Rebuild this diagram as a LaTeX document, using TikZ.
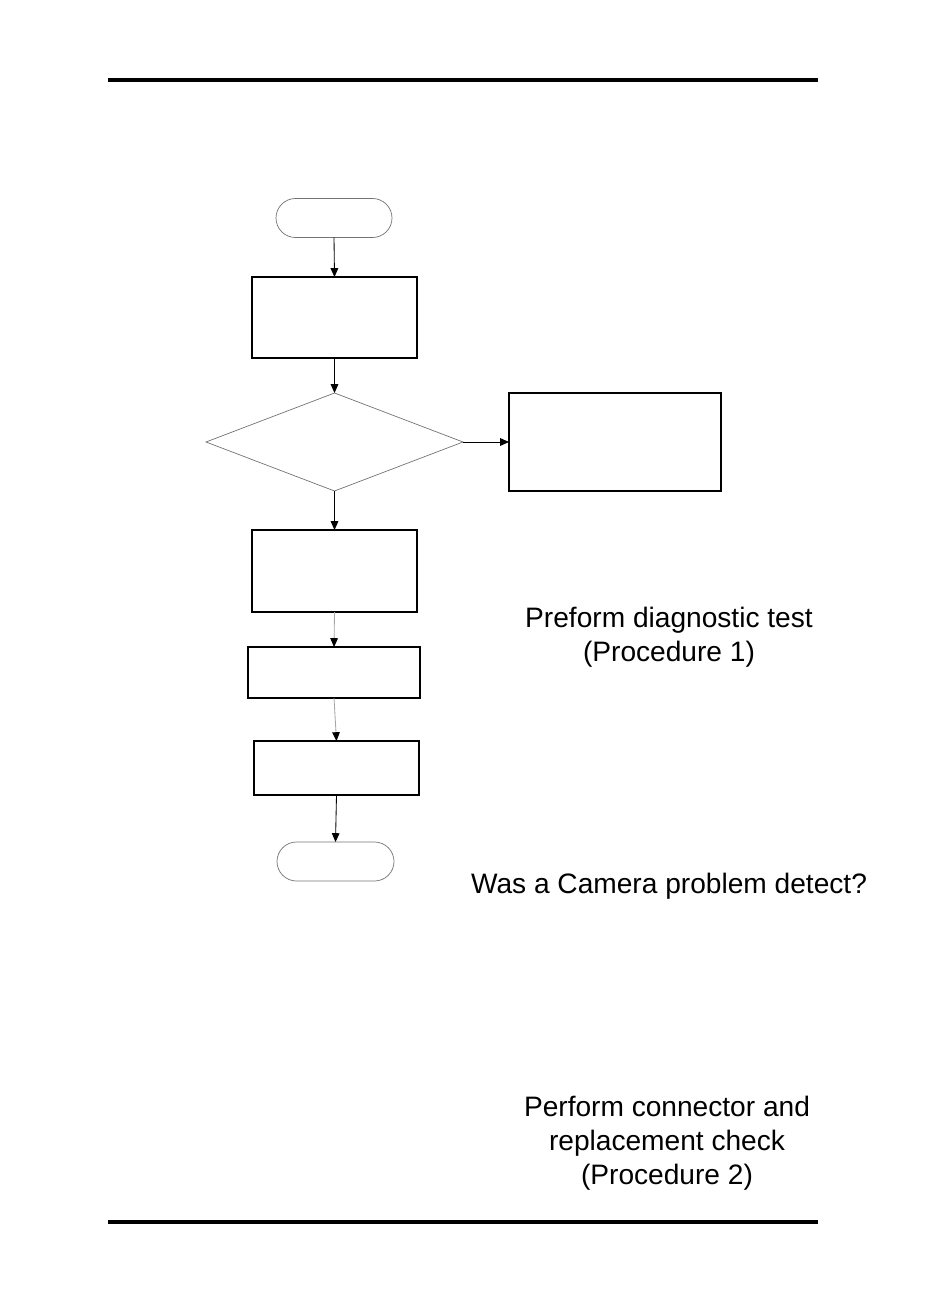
\documentclass[tikz,border=0pt]{standalone}
\usepackage{fontspec}
\setmainfont{Liberation Sans}
\usetikzlibrary{arrows.meta,shapes.geometric,shapes.misc}

\begin{document}
\begin{tikzpicture}[
  x=0.25mm, y=-0.25mm,
  line join=miter,
  font=\fontsize{20}{24}\selectfont,
  flow/.style={-{Triangle[length=2.2mm,width=1.9mm]}, line width=0.6pt, draw=black},
  faintflow/.style={-{Triangle[length=2.2mm,width=1.9mm,color=black]}, line width=0.6pt, draw=black!35},
  stepbox/.style={draw=black, line width=0.9pt, rectangle, inner sep=0pt, outer sep=0pt},
  terminal/.style={draw=black!55, line width=0.5pt, rounded rectangle, inner sep=0pt, outer sep=0pt,
    minimum width=29mm, minimum height=9.75mm},
  decision/.style={draw=black!55, line width=0.5pt, diamond, aspect=2.62, inner sep=0pt, outer sep=0pt,
    minimum width=64.25mm, minimum height=24.5mm},
  rule/.style={draw=black, line width=2.6pt},
  note/.style={align=center, inner sep=0pt}
]

\useasboundingbox (0,0) rectangle (928,1313);

% Page rules.
\draw[rule] (108,80) -- (818,80);
\draw[rule] (108,1222) -- (818,1222);

% Flowchart shapes.
\node[terminal] (start) at (334,218) {};
\node[stepbox, minimum width=41.25mm, minimum height=20.25mm] (runtest) at (334.5,317.5) {};
\node[decision] (detect) at (334.5,442) {};
\node[stepbox, minimum width=53mm, minimum height=24.5mm] (procTwo) at (615,442) {};
\node[stepbox, minimum width=41.25mm, minimum height=20.5mm] (passed) at (334.5,571) {};
\node[stepbox, minimum width=43mm, minimum height=12.75mm] (stepThree) at (334,672.5) {};
\node[stepbox, minimum width=41.25mm, minimum height=13.5mm] (stepFour) at (336.5,768) {};
\node[terminal, minimum width=29.25mm] (finish) at (335.5,861.5) {};

% Connectors.
\draw[flow] (start.south) -- (runtest.north);
\draw[flow] (runtest.south) -- (detect.north);
\draw[flow] (detect.east) -- (procTwo.west);
\draw[flow] (detect.south) -- (passed.north);
\draw[faintflow] (passed.south) -- (stepThree.north);
\draw[faintflow] (stepThree.south) -- (stepFour.north);
\draw[flow] (stepFour.south) -- (finish.north);

% Loose texts.
\node[note] (testText) at (669,637) {Preform diagnostic test\\(Procedure 1)};
\node[note] (askText) at (669,886) {Was a Camera problem detect?};
\node[note] (checkText) at (667,1143) {Perform connector and\\replacement check\\(Procedure 2)};

\end{tikzpicture}
\end{document}
